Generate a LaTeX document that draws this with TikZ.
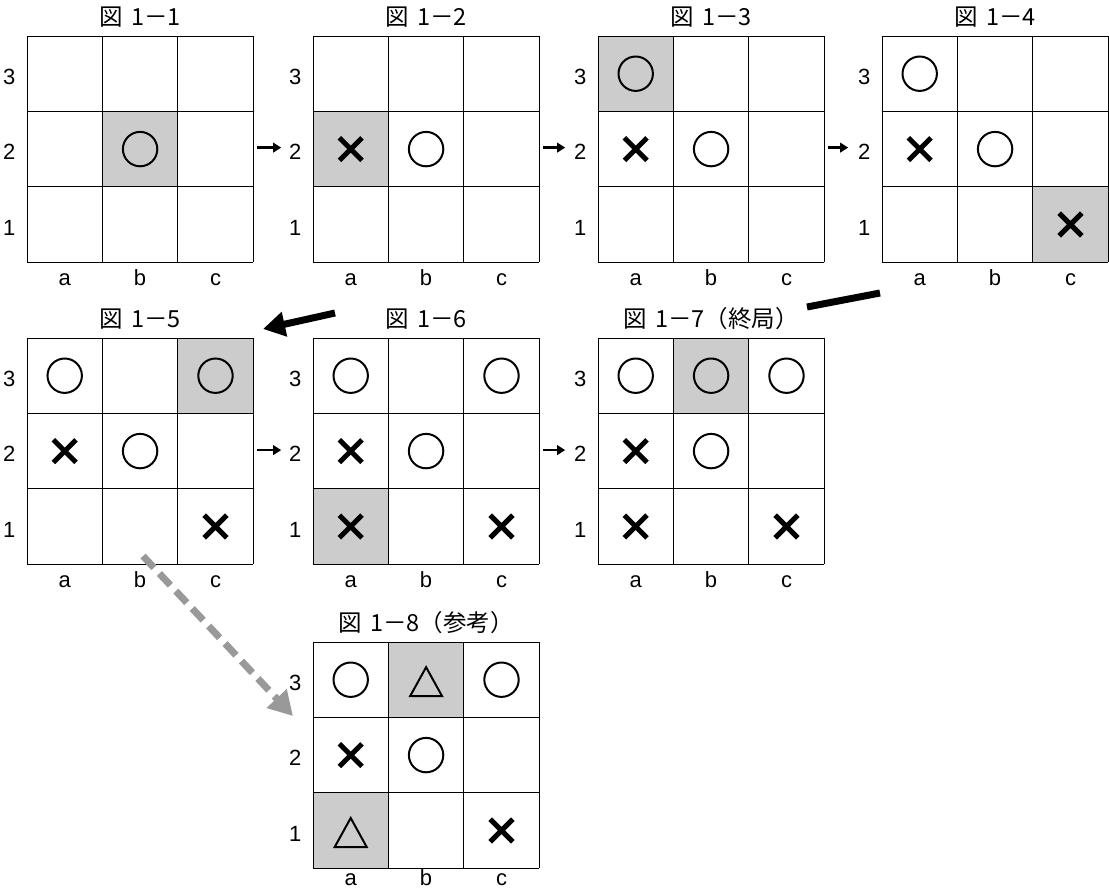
\documentclass[tikz,border=0pt]{standalone}
\usepackage{fontspec}
\setmainfont{Liberation Sans}
\newfontfamily\jpfont{Noto Sans CJK JP}
\usetikzlibrary{arrows.meta,calc}
\definecolor{shadegray}{RGB}{204,204,204}
\definecolor{arrowgray}{RGB}{153,153,153}
\tikzset{
  boardbox/.style={minimum width=226.2pt, minimum height=226.2pt, inner sep=0pt, outer sep=0pt, draw=none},
  gridline/.style={line width=1pt, black},
  shadecell/.style={fill=shadegray},
  lbl/.style={font=\fontsize{22}{22}\selectfont, inner sep=0pt, anchor=base},
  ttl/.style={font=\jpfont\fontsize{23.5}{24}\selectfont, inner sep=0pt, anchor=base},
  markline/.style={line width=2pt, black},
  crossline/.style={line width=5pt, black},
  smallarrow/.style={line width=2.6pt, -{Triangle[length=8pt,width=9.5pt]}},
  bigline/.style={line width=7pt},
  bigarrow/.style={line width=7pt, -{Triangle[length=22pt,width=24pt]}},
  grayarrow/.style={draw=arrowgray, line width=7pt, dash pattern=on 16pt off 8pt, -{Triangle[length=24pt,width=26pt]}},
}
\newcommand{\mko}{\draw[markline] (0,0) circle (17.2pt);}
\newcommand{\mkx}{\draw[crossline] (-11.3pt,-11.3pt) -- (11.3pt,11.3pt) (-11.3pt,11.3pt) -- (11.3pt,-11.3pt);}
\newcommand{\mkt}{\draw[markline] (-16pt,-16.5pt) -- (16pt,-16.5pt) -- (0pt,12.5pt) -- cycle;}
\newcommand{\zu}{図\hspace{8pt}}
\def\collabely{3.305}
% name, left, top, title, shaded cells, marks
\newcommand{\board}[6]{%
  \node[boardbox] (#1) at (#2+113.1,#3+113.1) {};
  \begin{scope}[shift={(#1.north west)},x=75.4pt,y=-75.4pt]
    \foreach \c/\r in {#5} {\fill[shadecell] (\c-1,3-\r) rectangle (\c,4-\r);}
    \foreach \i in {0,1,2,3} {\draw[gridline] (\i,0) -- (\i,3); \draw[gridline] (0,\i) -- (3,\i);}
    \foreach \c/\r/\m in {#6} {\begin{scope}[shift={(\c-0.5,3.5-\r)}]\csname mk\m\endcsname\end{scope}}
    \foreach \r in {1,2,3} {\node[lbl] at (-0.235,3.64-\r) {\r};}
    \foreach \c/\t in {1/a,2/b,3/c} {\node[lbl] at (\c-0.5,\collabely) {\t};}
  \end{scope}
  \node[ttl] (#1t) at ($(#1.north)+(0,-11)$) {#4};
}
\begin{document}
\begin{tikzpicture}[x=1pt,y=-1pt]
\useasboundingbox (0,0) rectangle (1109,889);
\fill[white] (0,0) rectangle (1109,889);
\board{b1}{27}{36}{\zu 1－1}{2/2}{2/2/o}
\board{b2}{313}{36}{\zu 1－2}{1/2}{1/2/x,2/2/o}
\board{b3}{598}{36}{\zu 1－3}{1/3}{1/3/o,1/2/x,2/2/o}
\board{b4}{882}{36}{\zu 1－4}{3/1}{1/3/o,1/2/x,2/2/o,3/1/x}
\board{b5}{27}{338}{\zu 1－5}{3/3}{1/3/o,3/3/o,1/2/x,2/2/o,3/1/x}
\board{b6}{313}{338}{\zu 1－6}{1/1}{1/3/o,3/3/o,1/2/x,2/2/o,1/1/x,3/1/x}
\board{b7}{598}{338}{\zu 1－7（終局）}{2/3}{1/3/o,2/3/o,3/3/o,1/2/x,2/2/o,1/1/x,3/1/x}
\def\collabely{3.225}
\board{b8}{313}{642}{\zu 1－8（参考）}{2/3,1/1}{1/3/o,2/3/t,3/3/o,1/2/x,2/2/o,1/1/t,3/1/x}
% small arrows
\draw[smallarrow] ($(b1.east)+(4,-1.5)$) -- ($(b1.east)+(28,-1.5)$);
\draw[smallarrow] ($(b2.east)+(4,-1.5)$) -- ($(b2.east)+(26,-1.5)$);
\draw[smallarrow] ($(b3.east)+(4,-1.5)$) -- ($(b3.east)+(24,-1.5)$);
\draw[smallarrow] ($(b5.east)+(4,-1)$) -- ($(b5.east)+(28,-1)$);
\draw[smallarrow] ($(b6.east)+(4,-1)$) -- ($(b6.east)+(26,-1)$);
% long move from 1-4 to 1-5
\coordinate (m1) at (880,293);
\coordinate (m2) at (807,307);
\coordinate (m3) at (335,313);
\coordinate (m4) at (263,329);
\draw[bigline] (m1) -- (m2);
\draw[bigarrow] (m3) -- (m4);
% reference arrow to 1-8
\coordinate (g1) at (143,556);
\coordinate (g2) at (293,716);
\draw[grayarrow] (g1) -- (g2);
\end{tikzpicture}
\end{document}
